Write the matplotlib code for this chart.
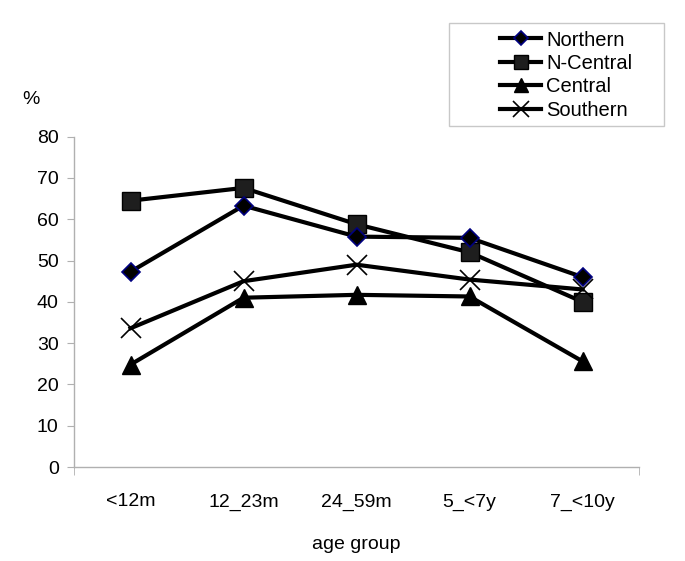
import matplotlib
matplotlib.use("Agg")
import matplotlib.pyplot as plt
from matplotlib.patches import Rectangle

categories = ["<12m", "12_23m", "24_59m", "5_<7y", "7_<10y"]
northern = [47.3, 63.3, 55.8, 55.5, 46.0]
n_central = [64.5, 67.6, 58.8, 52.0, 40.0]
central = [24.8, 41.0, 41.7, 41.3, 25.6]
southern = [33.6, 45.0, 49.0, 45.4, 43.0]
y_ticks = [0, 10, 20, 30, 40, 50, 60, 70, 80]

plt.rcParams['font.family'] = ['Liberation Sans', 'DejaVu Sans']

W, H = 685, 561
fig = plt.figure(figsize=(W/100, H/100), dpi=100)
ax = fig.add_axes([74/W, 1-467/H, (639-74)/W, (467-136.7)/H])

x = list(range(len(categories)))
lw = 3.0
ax.plot(x, northern, color='black', lw=lw, marker='D', ms=9.5,
        mfc='black', mec='#000080', mew=1.2, label='Northern', zorder=4)
ax.plot(x, n_central, color='black', lw=lw, marker='s', ms=13,
        mfc='#1e1e1e', mec='black', mew=1.0, label='N-Central', zorder=3)
ax.plot(x, central, color='black', lw=lw, marker='^', ms=13,
        mfc='black', mec='black', mew=1.0, label='Central', zorder=3)
ax.plot(x, southern, color='black', lw=lw, marker='x', ms=15,
        mec='black', mew=1.2, label='Southern', zorder=3)

ax.set_xlim(-0.5, len(categories) - 0.5)
ax.set_ylim(0, 80)
ax.set_yticks(y_ticks)
ax.set_xticks(x)
ax.set_xticklabels(categories)
ax.set_xticks([-0.5, len(categories) - 0.5], minor=True)

for s in ['top', 'right']:
    ax.spines[s].set_visible(False)
for s in ['left', 'bottom']:
    ax.spines[s].set_color('#b0b0b0')
    ax.spines[s].set_linewidth(1.0)

fs = 14
ax.tick_params(axis='y', direction='out', length=5, color='#b0b0b0',
               labelsize=fs, pad=6)
ax.tick_params(axis='x', which='major', length=0, labelsize=fs, pad=19)
ax.tick_params(axis='x', which='minor', length=6, color='#b0b0b0')

ax.set_xlabel("age group", fontsize=fs, labelpad=18)
fig.text(22/W, 1-100/H, "%", fontsize=fs, ha='left', va='center')

# legend box
fig.patches.append(Rectangle((449/W, 1-126/H), (664-449)/W, (126-23)/H,
                             transform=fig.transFigure, facecolor='white',
                             edgecolor='#c8c8c8', lw=1.0, zorder=0))
leg = fig.legend(loc='upper left', bbox_to_anchor=(500/W, 1-30.5/H),
                 frameon=False, fontsize=14.5, markerscale=0.75,
                 handlelength=2.05, borderpad=0.0, labelspacing=0.22,
                 handletextpad=0.25, borderaxespad=0)

fig.savefig("out.png", dpi=100, facecolor='white')
